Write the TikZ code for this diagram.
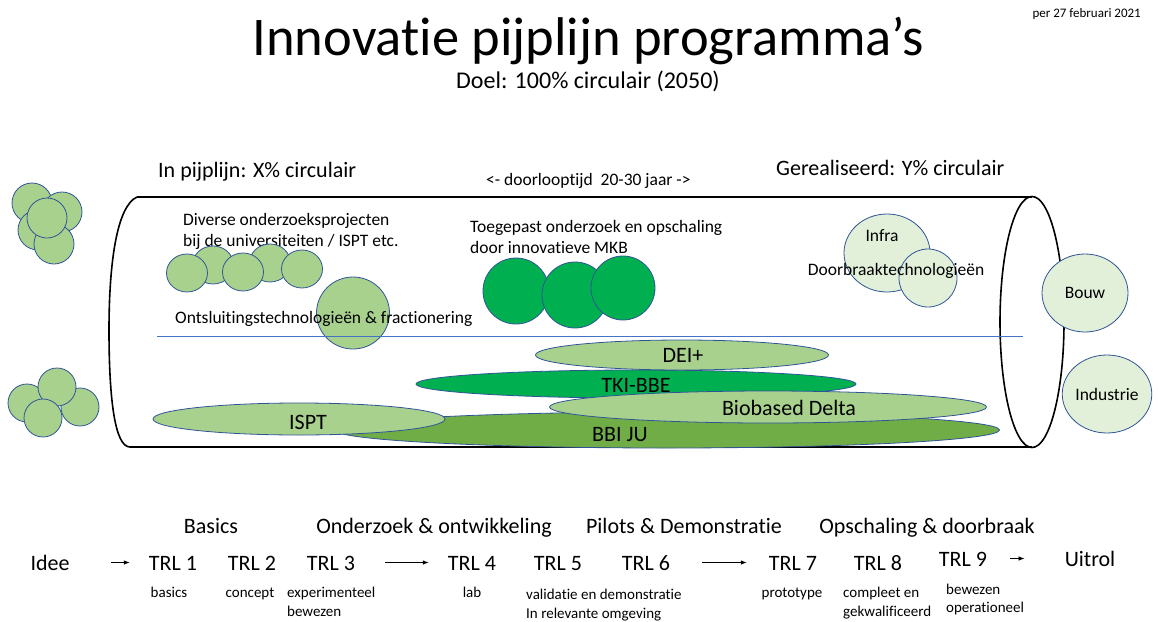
\documentclass[tikz,border=0pt]{standalone}
\usepackage{fontspec}
\setmainfont{Carlito}[Ligatures={NoCommon,NoRare}]
\usetikzlibrary{shapes.geometric,arrows.meta}
\definecolor{lg}{HTML}{A9D18E}
\definecolor{dg}{HTML}{00B050}
\definecolor{mg}{HTML}{70AD47}
\definecolor{pg}{HTML}{E2F0D9}
\definecolor{ol}{HTML}{2F5597}
\definecolor{bl}{HTML}{4472C4}
\begin{document}
\begin{tikzpicture}[x=1pt,y=-1pt,
  txt/.style={inner sep=0pt, anchor=base},
  txtw/.style={inner sep=0pt, anchor=base west},
  fa/.style={font=\fontsize{13}{16}\selectfont},
  fb/.style={font=\fontsize{15}{18}\selectfont},
  fc/.style={font=\fontsize{17.5}{21}\selectfont},
  fd/.style={font=\fontsize{22}{26}\selectfont},
  fe/.style={font=\fontsize{24}{29}\selectfont},
  ff/.style={font=\fontsize{54.5}{65}\selectfont},
  blob/.style={ellipse, draw=ol, line width=0.8pt, fill=lg, inner sep=0pt},
  band/.style={ellipse, draw=ol, line width=0.8pt, inner sep=0pt},
  pipe/.style={line width=1.6pt, black},
  trl/.style={inner sep=0pt, anchor=base, font=\fontsize{22}{26}\selectfont, text height=15pt, text depth=0pt},
  arr/.style={-{Latex[length=6pt,width=4.5pt]}, line width=0.7pt}
]
\useasboundingbox (0,0) rectangle (1158,621);

% titles
\node[txt, ff] (title) at (588,55) {Innovatie pijplijn programma’s};
\node[txt, fe] (goal) at (588,88) {Doel: 100\% circulair (2050)};
\node[inner sep=0pt, anchor=base east, fa] (date) at (1141,17) {per 27 februari 2021};

% outside clusters (top)
\node[blob, minimum width=40, minimum height=40] (ca1) at (32,203) {};
\node[blob, minimum width=40, minimum height=40] (ca2) at (62,212) {};
\node[blob, minimum width=40, minimum height=40] (ca3) at (38,230) {};
\node[blob, minimum width=40, minimum height=40] (ca4) at (54,244) {};
\node[blob, minimum width=40, minimum height=40] (ca5) at (47,218) {};
% outside clusters (bottom)
\node[blob, minimum width=38, minimum height=38] (cb1) at (27,403) {};
\node[blob, minimum width=38, minimum height=38] (cb2) at (80,407) {};
\node[blob, minimum width=38, minimum height=38] (cb3) at (57,387) {};
\node[blob, minimum width=38, minimum height=38] (cb4) at (43,418) {};

% pipe
\draw[pipe] (137,197) -- (1032,197);
\draw[pipe] (130,447) -- (1032,447);
\draw[pipe] (137,197) .. controls (117,206) and (109,262) .. (109,330)
               .. controls (109,400) and (115,447) .. (130,447);
\node[ellipse, draw, line width=1.6pt, minimum width=64, minimum height=251, inner sep=0pt] (pend) at (1032,322) {};

\node[txtw, fd] (inpijp) at (158,177) {In pijplijn: X\% circulair};
\node[txtw, fd] (gereal) at (776,175) {Gerealiseerd: Y\% circulair};
\node[txtw, fc] (door) at (486,185) {<- doorlooptijd~ 20-30 jaar ->};

% research projects
\node[txtw, fc] (div1) at (183,225) {Diverse onderzoeksprojecten};
\node[txtw, fc] (div2) at (183,246) {bij de universiteiten / ISPT etc.};
\node[blob, minimum width=41, minimum height=38] (s2) at (213,265) {};
\node[blob, minimum width=41, minimum height=38] (s4) at (270,263) {};
\node[blob, minimum width=41, minimum height=38] (s1) at (187,273) {};
\node[blob, minimum width=41, minimum height=38] (s3) at (243,272) {};
\node[blob, minimum width=41, minimum height=38] (s5) at (302,269) {};
\node[blob, minimum width=73, minimum height=72] (ont) at (353,313) {};
\node[txtw, fc] (ontt) at (175,323) {Ontsluitingstechnologieën \& fractionering};

% MKB
\node[txtw, fc] (mkb1) at (470,232) {Toegepast onderzoek en opschaling};
\node[txtw, fc] (mkb2) at (470,253) {door innovatieve MKB};
\node[blob, fill=dg, minimum width=66, minimum height=66] (m1) at (516,291) {};
\node[blob, fill=dg, minimum width=66, minimum height=66] (m2) at (575,295) {};
\node[blob, fill=dg, minimum width=64, minimum height=64] (m3) at (623,288) {};

% infra
\node[blob, fill=pg, minimum width=86, minimum height=78] (infra) at (887,253) {};
\node[blob, fill=pg, minimum width=58, minimum height=58] (doorb) at (928,278) {};
\node[txt, fc] (infrat) at (882,241) {Infra};
\node[txt, fc] (doorbt) at (896,275) {Doorbraaktechnologieën};

% outlets
\node[blob, fill=pg, minimum width=86, minimum height=78, fc] (bouw) at (1085,293) {Bouw};
\node[blob, fill=pg, minimum width=86, minimum height=78, fc] (ind) at (1107,394) {Industrie};

% horizontal line
\draw[bl, line width=0.8pt] (157,336) -- (1023,336);

% programme bands
\node[band, fill=dg, minimum width=440, minimum height=28] (tki) at (636,384) {};
\node[band, fill=lg, minimum width=293, minimum height=30] (dei) at (682,355) {};
\node[band, fill=mg, minimum width=665, minimum height=36] (bbi) at (667,430) {};
\node[band, fill=lg, minimum width=437, minimum height=32] (bbd) at (768,407) {};
\node[band, fill=lg, minimum width=292, minimum height=32] (ispt) at (299,419) {};
\node[txt, fd] (deit) at (683,362) {DEI+};
\node[txt, fd] (tkit) at (636,392) {TKI-BBE};
\node[txt, fd] (isptt) at (308,429) {ISPT};
\node[txt, fd] (bbdt) at (789,415) {Biobased Delta};
\node[txt, fd] (bbit) at (620,441) {BBI JU};

% phases
\node[txt, fd] (ph1) at (211,533) {Basics};
\node[txt, fd] (ph2) at (434,533) {Onderzoek \& ontwikkeling};
\node[txt, fd] (ph3) at (684,533) {Pilots \& Demonstratie};
\node[txt, fd] (ph4) at (927,533) {Opschaling \& doorbraak};

% TRL row
\node[trl] (idee) at (50,570) {Idee};
\node[trl] (t1) at (173,570) {TRL 1};
\node[trl] (t2) at (252,570) {TRL 2};
\node[trl] (t3) at (331,570) {TRL 3};
\node[trl] (t4) at (472,570) {TRL 4};
\node[trl] (t5) at (558,570) {TRL 5};
\node[trl] (t6) at (646,570) {TRL 6};
\node[trl] (t7) at (793,570) {TRL 7};
\node[trl] (t8) at (878,570) {TRL 8};
\node[trl] (t9) at (963,566) {TRL 9};
\node[trl] (uit) at (1090,566) {Uitrol};

\draw[arr, shorten <=41pt, shorten >=19pt] (idee.east) -- (t1.west);
\draw[arr, shorten <=30pt, shorten >=19pt] (t3.east) -- (t4.west);
\draw[arr, shorten <=32pt, shorten >=22pt] (t6.east) -- (t7.west);
\draw[arr, shorten <=23pt, shorten >=40pt] (t9.east) -- (uit.west);

% TRL descriptions
\node[txt, fb] (d1) at (169,597) {basics};
\node[txt, fb] (d2) at (250,597) {concept};
\node[txtw, fb] (d3a) at (287,597) {experimenteel};
\node[txtw, fb] (d3b) at (287,616) {bewezen};
\node[txt, fb] (d4) at (472,597) {lab};
\node[txtw, fb] (d5a) at (526,599) {validatie en demonstratie};
\node[txtw, fb] (d5b) at (526,618) {In relevante omgeving};
\node[txt, fb] (d7) at (792,597) {prototype};
\node[txtw, fb] (d8a) at (843,597) {compleet en};
\node[txtw, fb] (d8b) at (843,616) {gekwalificeerd};
\node[txtw, fb] (d9a) at (946,594) {bewezen};
\node[txtw, fb] (d9b) at (946,612) {operationeel};
\end{tikzpicture}
\end{document}
